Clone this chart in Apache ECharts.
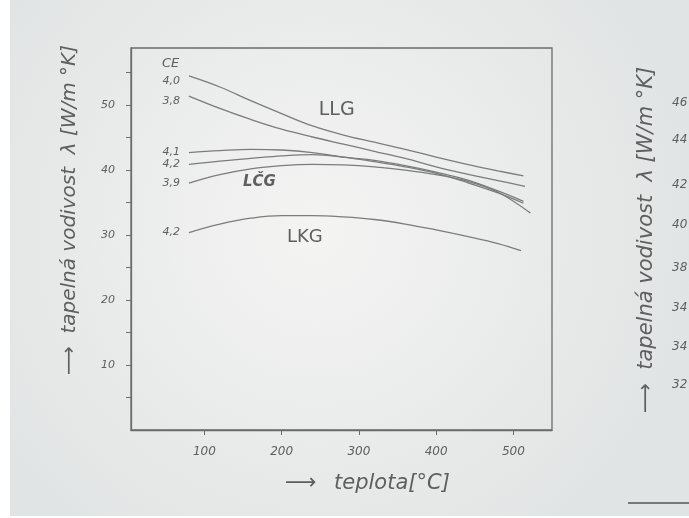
<!DOCTYPE html>
<html>
<head>
<meta charset="utf-8">
<script src="https://cdn.jsdelivr.net/npm/echarts@6/dist/echarts.min.js"></script>
<style>html,body{margin:0;padding:0;background:#fff}#c{width:689px;height:518px}</style>
</head>
<body>
<div id="c"></div>
<script>
// ---- data ----
const xTicks = [100, 200, 300, 400, 500];
const yTicks = [5, 10, 15, 20, 25, 30, 35, 40, 45, 50, 55];
const yLabels = [10, 20, 30, 40, 50];

const tLLG40 = [80, 120, 160, 200, 240, 280, 320, 360, 400, 440, 480, 513];
const vLLG40 = [54.5, 52.8, 50.7, 48.7, 46.8, 45.4, 44.3, 43.2, 42.0, 40.9, 39.9, 39.1];

const tLLG38 = [80, 120, 160, 200, 240, 280, 320, 360, 400, 440, 480, 515];
const vLLG38 = [51.4, 49.5, 47.8, 46.3, 45.1, 44.0, 42.9, 41.8, 40.5, 39.4, 38.4, 37.5];

const tLCG41 = [80, 120, 160, 200, 240, 280, 320, 360, 400, 440, 480, 513];
const vLCG41 = [42.7, 43.0, 43.2, 43.1, 42.7, 42.0, 41.5, 40.7, 39.7, 38.5, 36.8, 35.2];

const tLCG42 = [80, 120, 160, 200, 240, 280, 320, 360, 400, 440, 480, 513];
const vLCG42 = [40.9, 41.4, 41.8, 42.2, 42.4, 42.0, 41.3, 40.5, 39.5, 38.1, 36.5, 34.9];

const tLCG39 = [80, 120, 160, 200, 240, 280, 320, 360, 400, 440, 480, 522];
const vLCG39 = [38.0, 39.3, 40.2, 40.7, 40.9, 40.8, 40.5, 40.0, 39.3, 38.3, 36.6, 33.4];

const tLKG42 = [80, 120, 160, 200, 240, 280, 320, 360, 400, 440, 480, 510];
const vLKG42 = [30.4, 31.7, 32.6, 33.0, 33.0, 32.8, 32.4, 31.7, 30.8, 29.8, 28.7, 27.6];

const ceLabels = ['4,0', '3,8', '4,1', '4,2', '3,9', '4,2'];
const rightLabels = ['46', '44', '42', '40', '38', '34', '34', '32'];

const curves = [
  [tLLG40, vLLG40], [tLLG38, vLLG38], [tLCG41, vLCG41],
  [tLCG42, vLCG42], [tLCG39, vLCG39], [tLKG42, vLKG42]
];

const INK = '#5e605f';
const FONT = '"DejaVu Sans", sans-serif';

const chart = echarts.init(document.getElementById('c'), null, {renderer: 'canvas'});

const series = curves.map(([t, v]) => ({
  type: 'line',
  smooth: 0.4,
  showSymbol: false,
  symbol: 'none',
  silent: true,
  lineStyle: {color: '#7a7d7b', width: 1.3},
  data: t.map((x, i) => [x, v[i]])
}));

chart.setOption({
  backgroundColor: '#ffffff',
  animation: false,
  grid: {
    left: 131, top: 48, right: 137, bottom: 88,
    show: true, borderColor: '#6a6c6b', borderWidth: 1.3,
    backgroundColor: 'rgba(0,0,0,0)'
  },
  xAxis: {
    type: 'value', min: 5, max: 550,
    splitLine: {show: false},
    axisLine: {show: true, lineStyle: {color: '#6a6c6b', width: 1.3}},
    axisTick: {show: true, customValues: xTicks, length: 5, lineStyle: {color: '#6a6c6b'}},
    axisLabel: {customValues: xTicks, margin: 16, color: INK, fontSize: 12, fontStyle: 'italic', fontFamily: FONT}
  },
  yAxis: {
    type: 'value', min: 0, max: 58.8,
    splitLine: {show: false},
    axisLine: {show: true, lineStyle: {color: '#6a6c6b', width: 1.3}},
    axisTick: {show: true, customValues: yTicks, length: 5, lineStyle: {color: '#6a6c6b'}},
    axisLabel: {customValues: yLabels, margin: 16, color: INK, fontSize: 11, fontStyle: 'italic', fontFamily: FONT}
  },
  graphic: [],
  series: series
});

// Paper + annotations (anchored to data coordinates)
const px = (x, y) => chart.convertToPixel({gridIndex: 0}, [x, y]);
const txt = (x, y, text, font, extra) => ({
  type: 'text', x: x, y: y, silent: true,
  style: Object.assign({text: text, fill: INK, font: font,
    align: 'left', verticalAlign: 'middle'}, extra || {})
});

const g = [];
g.push({type: 'rect', z: -10, shape: {x: 10, y: 0, width: 679, height: 516},
  style: {fill: new echarts.graphic.RadialGradient(0.45, 0.45, 0.75, [
    {offset: 0, color: '#f4f4f3'}, {offset: 1, color: '#e1e4e4'}])}, silent: true});

// CE labels next to curve starts
g.push(txt(162, 64, 'CE', 'italic 13px ' + FONT));
curves.forEach(([t, v], i) => {
  const p = px(t[0], v[0]);
  g.push(txt(p[0] - 9, p[1] + (i < 2 ? 5 : 0), ceLabels[i], 'italic 11px ' + FONT, {align: 'right'}));
});

// group labels
const pL = px(248, 49.2); g.push(txt(pL[0], pL[1], 'LLG', '19px ' + FONT));
const pC = px(150, 38.2); g.push(txt(pC[0], pC[1], 'LČG', 'italic bold 15px ' + FONT));
const pK = px(207, 29.7); g.push(txt(pK[0], pK[1], 'LKG', '18px ' + FONT));

// axis titles
g.push(txt(285, 483, '⟶', '22px ' + FONT));
g.push(txt(334, 484, 'teplota[°C]', 'italic 21px ' + FONT));
g.push({type: 'text', x: 70, y: 210, rotation: Math.PI / 2, silent: true,
  style: {text: '⟶  tapelná vodivost  λ [W/m °K]', fill: INK, font: 'italic 20px ' + FONT,
    align: 'center', verticalAlign: 'middle'}});

// neighbouring page content on the right
g.push({type: 'text', x: 647, y: 240, rotation: Math.PI / 2, silent: true,
  style: {text: '⟶  tapelná vodivost  λ [W/m °K]', fill: INK, font: 'italic 21px ' + FONT,
    align: 'center', verticalAlign: 'middle'}});
const rightY = [103, 140, 185, 225, 268, 308, 347, 385];
rightLabels.forEach((s, i) => g.push(txt(672, rightY[i], s, 'italic 12px ' + FONT)));
g.push({type: 'line', shape: {x1: 628, y1: 503, x2: 689, y2: 503}, style: {stroke: '#555', lineWidth: 1.5}, silent: true});

chart.setOption({graphic: g});
</script>
</body>
</html>
